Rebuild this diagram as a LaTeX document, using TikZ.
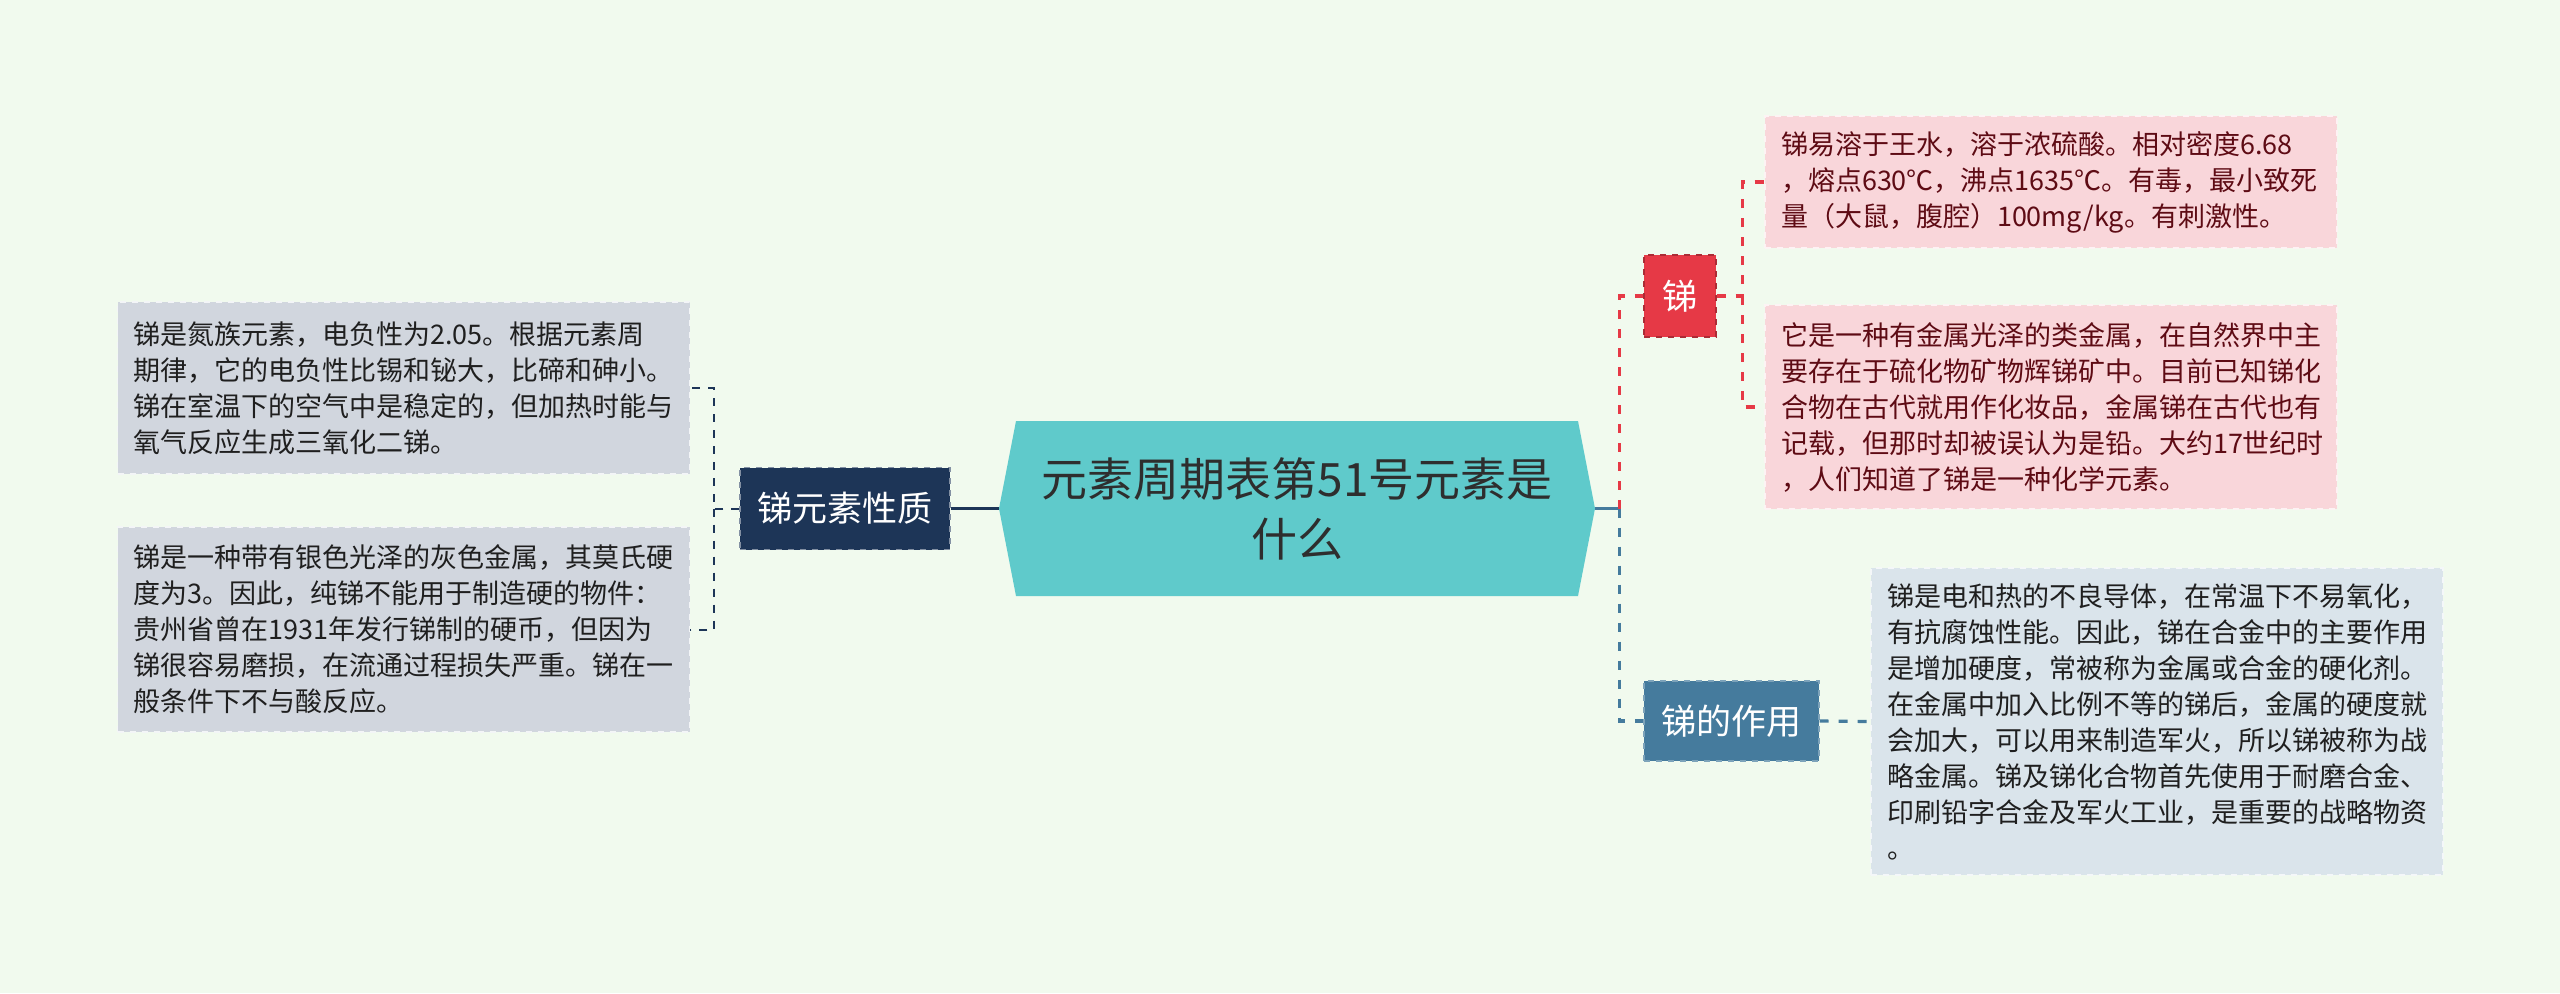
\documentclass[tikz,border=0pt]{standalone}
\usepackage{fontspec}
\setmainfont{Noto Sans CJK SC}
\usepackage{tikz}
\usetikzlibrary{shapes.symbols}
\definecolor{bgMint}{HTML}{F1FAEE}
\definecolor{titleTeal}{HTML}{5FCACB}
\definecolor{sbNavy}{HTML}{1D3557}
\definecolor{sbRed}{HTML}{E63946}
\definecolor{sbBlue}{HTML}{457B9D}
\definecolor{greyBox}{HTML}{D1D6DE}
\definecolor{pinkBox}{HTML}{F9D6DA}
\definecolor{paleBlue}{HTML}{DAE4EB}
\definecolor{darkRed}{HTML}{5E0B14}

\begin{document}
\begin{tikzpicture}[x=0.5pt,y=-0.5pt,
    topic/.style={font=\fontsize{17.5pt}{21pt}\selectfont, text=white, inner sep=0pt, dashed, line width=0.6pt},
    infobox/.style={font=\fontsize{13.5pt}{18pt}\selectfont, align=left, text width=270pt, inner xsep=8pt, inner ysep=0pt, dashed, line width=0.6pt},
    leftlink/.style={sbNavy, line width=1pt, dash pattern=on 4pt off 4pt},
    redlink/.style={sbRed, line width=1.6pt, dash pattern=on 4.5pt off 5pt},
    bluelink/.style={sbBlue, line width=1.6pt, dash pattern=on 4.5pt off 5pt}]
    % Background
    \useasboundingbox[fill=bgMint] (0,0) rectangle (2560,993);
    % Central topic
    \node[signal, signal to=west and east, signal pointer angle=158, fill=titleTeal, text=black!82,
          minimum width=298pt, minimum height=87.5pt, inner sep=0pt, align=center,
          font=\fontsize{23pt}{30pt}\selectfont] (title) at (1297,508.5) {元素周期表第51号元素是\\什么};
    % Left branch
    \node[topic, fill=sbNavy, draw=sbNavy!55, minimum width=105pt, minimum height=41pt] (prop) at (845,508.5) {锑元素性质};
    \node[infobox, fill=greyBox, draw=white!75!greyBox, text=black!88, minimum height=86pt] (textA) at (403.5,388) {锑是氮族元素，电负性为2.05。根据元素周\\期律，它的电负性比锡和铋大，比碲和砷小。\\锑在室温下的空气中是稳定的，但加热时能与\\氧气反应生成三氧化二锑。};
    \node[infobox, fill=greyBox, draw=white!75!greyBox, text=black!88, minimum height=102.5pt] (textB) at (403.5,629.5) {锑是一种带有银色光泽的灰色金属，其莫氏硬\\度为3。因此，纯锑不能用于制造硬的物件：\\贵州省曾在1931年发行锑制的硬币，但因为\\锑很容易磨损，在流通过程损失严重。锑在一\\般条件下不与酸反应。};
    % Right branch: 锑
    \node[topic, fill=sbRed, draw=sbRed!75!black, minimum width=36pt, minimum height=41pt] (sb) at (1680,296) {锑};
    \node[infobox, fill=pinkBox, draw=white!70!pinkBox, text=darkRed, minimum height=66pt] (pinkA) at (2051,182) {锑易溶于王水，溶于浓硫酸。相对密度6.68\\，熔点630℃，沸点1635℃。有毒，最小致死\\量（大鼠，腹腔）100mg/kg。有刺激性。};
    \node[infobox, fill=pinkBox, draw=white!70!pinkBox, text=darkRed, minimum height=102pt] (pinkB) at (2051,407) {它是一种有金属光泽的类金属，在自然界中主\\要存在于硫化物矿物辉锑矿中。目前已知锑化\\合物在古代就用作化妆品，金属锑在古代也有\\记载，但那时却被误认为是铅。大约17世纪时\\，人们知道了锑是一种化学元素。};
    % Right branch: 锑的作用
    \node[topic, fill=sbBlue, draw=sbBlue!70!white, minimum width=87.5pt, minimum height=40pt] (use) at (1731.5,721) {锑的作用};
    \node[infobox, fill=paleBlue, draw=white!70!paleBlue, text=black!88, minimum height=153.5pt] (useText) at (2157,721.5) {锑是电和热的不良导体，在常温下不易氧化，\\有抗腐蚀性能。因此，锑在合金中的主要作用\\是增加硬度，常被称为金属或合金的硬化剂。\\在金属中加入比例不等的锑后，金属的硬度就\\会加大，可以用来制造军火，所以锑被称为战\\略金属。锑及锑化合物首先使用于耐磨合金、\\印刷铅字合金及军火工业，是重要的战略物资\\。};
    % Connectors
    \path (prop.west) ++(-25,0) coordinate (lj);
    \path (title.east) ++(24,0) coordinate (rj);
    \path (sb.east) ++(26,0) coordinate (sj);
    \draw[sbNavy, line width=1.4pt] (title.west) -- (prop.east);
    \draw[leftlink] (prop.west) -- (lj) |- (textA.east);
    \draw[leftlink] (lj) |- (textB.east);
    \draw[sbBlue, line width=1.6pt] (title.east) -- (rj);
    \draw[redlink] (rj) |- (sb.west);
    \draw[bluelink] (rj) |- (use.west);
    \draw[redlink] (sb.east) -- (sj) |- (pinkA.west);
    \draw[redlink] (sj) |- (pinkB.west);
    \draw[bluelink] (use.east) -- (useText.west);
\end{tikzpicture}
\end{document}
